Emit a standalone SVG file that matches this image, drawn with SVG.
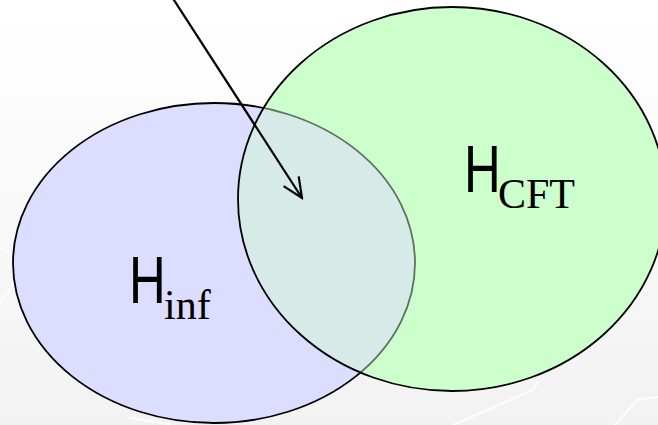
<svg xmlns="http://www.w3.org/2000/svg" width="658" height="425" viewBox="0 0 658 425">
<defs>
<linearGradient id="bg" x1="0" y1="0" x2="0" y2="1">
<stop offset="0" stop-color="#ffffff"/>
<stop offset="1" stop-color="#f2f2f2"/>
</linearGradient>
<clipPath id="greenClip"><ellipse cx="452" cy="199" rx="214" ry="192"/></clipPath>
<marker id="open" viewBox="0 0 24 24" refX="22" refY="12" markerWidth="24" markerHeight="24" markerUnits="userSpaceOnUse" orient="auto">
<path d="M2,3 L22,12 L2,21" fill="none" stroke="#000" stroke-width="2.2"/>
</marker>
<style>
.hmain{font-family:"Liberation Sans",Arial,sans-serif;font-size:67px;fill:#000}
.sub{font-family:"Liberation Serif","Times New Roman",serif;font-size:42px;fill:#000}
.edge{stroke:#000;stroke-width:1.8}
.deco{fill:none;stroke:#ffffff;stroke-width:2;opacity:0.9}
</style>
</defs>
<rect width="658" height="425" fill="url(#bg)"/>
<g id="background-lines">
<polyline class="deco" points="453,425 533,390 538,382"/>
<polyline class="deco" points="615,425 637,400 658,397"/>
<polyline class="deco" points="0,303 15,281"/>
<polyline class="deco" points="0,248 20,258"/>
<polyline class="deco" points="130,418 170,424"/>
</g>
<g id="H_inf">
<ellipse class="edge" cx="214" cy="263" rx="201" ry="160" fill="#ddddff"/>
</g>
<g id="H_CFT">
<ellipse cx="452" cy="199" rx="214" ry="192" fill="#ccffcc"/>
<g id="overlap" clip-path="url(#greenClip)">
<ellipse cx="214" cy="263" rx="201" ry="160" fill="#d6ebe7" stroke="#5e6f64" stroke-width="1.8"/>
</g>
<ellipse class="edge" cx="452" cy="199" rx="214" ry="192" fill="none"/>
</g>
<g id="labels">
<g transform="translate(129,303) scale(0.76,1)"><text class="hmain" x="0" y="0">H</text></g>
<text class="sub" x="164" y="319">inf</text>
<g transform="translate(464,192) scale(0.76,1)"><text class="hmain" x="0" y="0">H</text></g>
<text class="sub" x="498" y="208">CFT</text>
</g>
<g id="connectors">
<line x1="172" y1="-3" x2="302" y2="198" stroke="#000" stroke-width="2.2" marker-end="url(#open)"/>
</g>
</svg>
